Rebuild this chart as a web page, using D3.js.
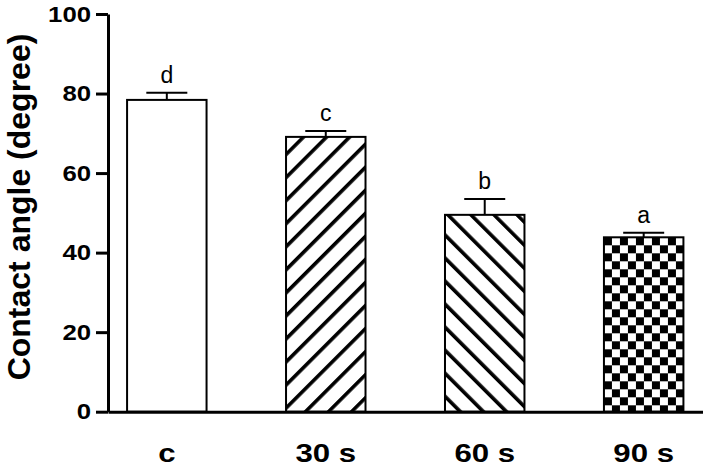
<!DOCTYPE html>
<html>
<head>
<meta charset="utf-8">
<script src="https://cdn.jsdelivr.net/npm/d3@7"></script>
<style>
  body { margin: 0; background: #fff; }
  svg { display: block; font-family: "Liberation Sans", Arial, sans-serif; }
</style>
</head>
<body>
<div id="chart"></div>
<script>
// Contact angle by treatment time
const categories = ["c", "30 s", "60 s", "90 s"];
const means = [78.4, 69.1, 49.5, 43.85];
const errors = [1.8, 1.5, 4.0, 1.15];
const letters = ["d", "c", "b", "a"];
const yTicks = [0, 20, 40, 60, 80, 100];
const fills = ["#fff", "url(#hatchFwd)", "url(#hatchBack)", "url(#checker)"];

const width = 708, height = 467;
const margin = { top: 14, right: 5.5, bottom: 55.3, left: 108 };

const svg = d3.select("#chart")
  .append("svg")
    .attr("width", width)
    .attr("height", height);

// patterns
const defs = svg.append("defs");

const hatch = (id, angle) => {
  const p = defs.append("pattern")
    .attr("id", id)
    .attr("patternUnits", "userSpaceOnUse")
    .attr("width", 16.3)
    .attr("height", 16.3)
    .attr("patternTransform", `rotate(${angle})`);
  p.append("rect").attr("width", 16.3).attr("height", 16.3).attr("fill", "#fff");
  p.append("rect").attr("x", 0).attr("width", 3.6).attr("height", 16.3).attr("fill", "#000");
};
hatch("hatchFwd", 45);
hatch("hatchBack", -45);

const x = d3.scaleBand()
  .domain(categories)
  .range([margin.left, width - margin.right])
  .paddingInner(0.5)
  .paddingOuter(0.12);

const y = d3.scaleLinear()
  .domain([0, 100])
  .range([height - margin.bottom, margin.top]);

const checker = defs.append("pattern")
  .attr("id", "checker")
  .attr("patternUnits", "userSpaceOnUse")
  .attr("x", x("90 s"))
  .attr("y", y(means[3]))
  .attr("width", 16)
  .attr("height", 16);
checker.append("rect").attr("width", 16).attr("height", 16).attr("fill", "#fff");
checker.append("rect").attr("x", 0).attr("y", 0).attr("width", 8).attr("height", 8).attr("fill", "#000");
checker.append("rect").attr("x", 8).attr("y", 8).attr("width", 8).attr("height", 8).attr("fill", "#000");

const data = categories.map((c, i) => ({ cat: c, mean: means[i], err: errors[i], letter: letters[i], fill: fills[i] }));

// Bars
svg.selectAll("rect.bar")
  .data(data)
  .enter()
  .append("rect")
    .attr("class", "bar")
    .attr("x", d => x(d.cat))
    .attr("y", d => y(d.mean))
    .attr("width", x.bandwidth())
    .attr("height", d => y(0) - y(d.mean))
    .attr("fill", d => d.fill)
    .attr("stroke", "#000")
    .attr("stroke-width", 2);

// Error bars (upper only)
const capW = 41;
const eb = svg.selectAll("g.err")
  .data(data)
  .enter()
  .append("g")
    .attr("class", "err")
    .attr("stroke", "#000")
    .attr("stroke-width", 2);

eb.append("line")
  .attr("x1", d => x(d.cat) + x.bandwidth() / 2)
  .attr("x2", d => x(d.cat) + x.bandwidth() / 2)
  .attr("y1", d => y(d.mean))
  .attr("y2", d => y(d.mean + d.err));

eb.append("line")
  .attr("x1", d => x(d.cat) + x.bandwidth() / 2 - capW / 2)
  .attr("x2", d => x(d.cat) + x.bandwidth() / 2 + capW / 2)
  .attr("y1", d => y(d.mean + d.err))
  .attr("y2", d => y(d.mean + d.err));

// Significance letters
svg.selectAll("text.sig")
  .data(data)
  .enter()
  .append("text")
    .attr("class", "sig")
    .attr("x", d => x(d.cat) + x.bandwidth() / 2)
    .attr("y", d => y(d.mean + d.err) - 10)
    .attr("text-anchor", "middle")
    .style("font-size", "23px")
    .text(d => d.letter);

// Y axis
const yAxis = svg.append("g")
  .attr("class", "y-axis")
  .attr("transform", `translate(${margin.left},0)`)
  .call(d3.axisLeft(y).tickValues(yTicks).tickSizeInner(12).tickSizeOuter(0).tickPadding(6));

yAxis.select(".domain")
  .attr("style", "stroke:#000;stroke-width:3px;fill:none");
yAxis.selectAll(".tick line")
  .attr("style", "stroke:#000;stroke-width:3px");
yAxis.selectAll(".tick text")
  .attr("x", -14.5)
  .attr("transform", "scale(1.17,1)")
  .attr("style", "fill:#000;font-size:22px;font-weight:bold");

// X axis
const xAxis = svg.append("g")
  .attr("class", "x-axis")
  .attr("transform", `translate(0,${y(0)})`)
  .call(d3.axisBottom(x).tickSize(0).tickSizeOuter(0));

xAxis.select(".domain")
  .attr("style", "stroke:#000;stroke-width:3px;fill:none");
xAxis.selectAll(".tick text")
  .attr("y", 50.5)
  .attr("dy", 0)
  .attr("x", 0)
  .attr("transform", "scale(1.2,1)")
  .attr("style", "fill:#000;font-size:26px;font-weight:bold");

// Y label
svg.append("text")
  .attr("transform", "rotate(-90)")
  .attr("x", -207)
  .attr("y", 29.5)
  .attr("text-anchor", "middle")
  .style("font-size", "32px")
  .style("font-weight", "bold")
  .text("Contact angle (degree)");
</script>
</body>
</html>
